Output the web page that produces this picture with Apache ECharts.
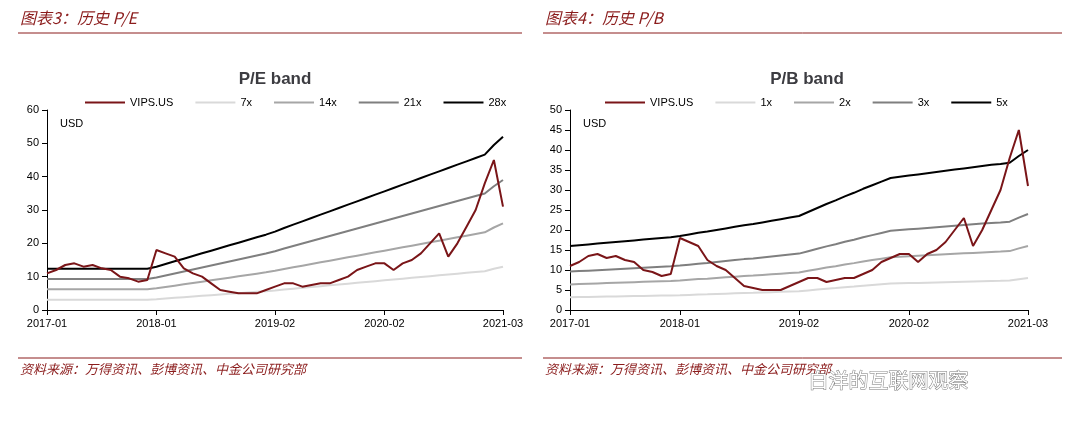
<!DOCTYPE html>
<html lang="zh">
<head>
<meta charset="UTF-8">
<title>VIPS band</title>
<style>
  html, body { margin: 0; padding: 0; background: #fff; }
  #main { width: 1080px; height: 432px; }
</style>
</head>
<body>
<div id="main"></div>
<script src="https://cdn.jsdelivr.net/npm/echarts@6/dist/echarts.min.js"></script>
<script>
// 月度类目 2017-01 ~ 2021-03
var months = [];
for (var y = 2017; y <= 2021; y++) {
  for (var m = 1; m <= 12; m++) {
    if (y === 2021 && m > 3) break;
    months.push(y + '-' + (m < 10 ? '0' + m : m));
  }
}
var tickLabels = ['2017-01', '2018-01', '2019-02', '2020-02', '2021-03'];

// 股价 VIPS.US (USD)
var price = [
  11, 12, 13.5, 14, 13, 13.5, 12.5, 12, 10, 9.5, 8.5, 9,
  18, 17, 16, 12.5, 11, 10, 8, 6, 5.5, 5, 5, 5,
  6, 7, 8, 8, 7, 7.5, 8, 8, 9, 10, 12, 13,
  14, 14, 12, 14, 15, 17, 20, 23, 16, 20, 25, 30,
  38, 45, 31
];

// 28x P/E 线
var pe28 = [
  12.4, 12.4, 12.4, 12.4, 12.4, 12.4, 12.4, 12.4, 12.4, 12.4, 12.4, 12.4,
  13, 13.8, 14.6, 15.4, 16.2, 17, 17.8, 18.6, 19.4, 20.2, 21, 21.8,
  22.6, 23.5, 24.6, 25.6, 26.6, 27.6, 28.6, 29.6, 30.6, 31.6, 32.6, 33.6,
  34.6, 35.6, 36.6, 37.6, 38.6, 39.6, 40.6, 41.6, 42.6, 43.6, 44.6, 45.6,
  46.6, 49.5, 52
];
var peMultiples = [7, 14, 21, 28];

// 5x P/B 线
var pb5 = [
  16, 16.2, 16.4, 16.6, 16.8, 17, 17.2, 17.4, 17.6, 17.8, 18, 18.2,
  18.5, 18.9, 19.3, 19.6, 20, 20.4, 20.8, 21.2, 21.5, 21.9, 22.3, 22.7,
  23.1, 23.5, 24.5, 25.5, 26.5, 27.4, 28.4, 29.3, 30.3, 31.2, 32.1, 33,
  33.3, 33.6, 33.9, 34.2, 34.5, 34.8, 35.1, 35.4, 35.7, 36, 36.3, 36.5,
  36.8, 38.5, 40
];
var pbMultiples = [1, 2, 3, 5];

var bandColors = ['#d9d9d9', '#a6a6a6', '#7f7f7f', '#000000'];
var priceColor = '#7a1518';
var redText = '#8b1c1c';

function bands(base, top, mults, suffix, idx) {
  return mults.map(function (k, i) {
    return {
      name: k + suffix, type: 'line', xAxisIndex: idx, yAxisIndex: idx,
      showSymbol: false, smooth: false,
      lineStyle: { color: bandColors[i], width: 2 }, itemStyle: { color: bandColors[i] },
      data: base.map(function (v) { return +(v * k / top).toFixed(2); })
    };
  });
}

function xAxis(idx) {
  return {
    type: 'category', gridIndex: idx, data: months, boundaryGap: false,
    axisLine: { lineStyle: { color: '#000' } },
    axisTick: { interval: function (i, v) { return tickLabels.indexOf(v) >= 0; }, lineStyle: { color: '#000' } },
    axisLabel: { interval: function (i, v) { return tickLabels.indexOf(v) >= 0; }, color: '#000', fontSize: 11 }
  };
}
function yAxis(idx, max, step) {
  return {
    type: 'value', gridIndex: idx, min: 0, max: max, interval: step,
    axisLine: { show: true, lineStyle: { color: '#000' } },
    axisTick: { show: true, lineStyle: { color: '#000' } },
    axisLabel: { color: '#000', fontSize: 11 },
    splitLine: { show: false }
  };
}
function priceSeries(idx) {
  return {
    name: 'VIPS.US', type: 'line', xAxisIndex: idx, yAxisIndex: idx,
    showSymbol: false, z: 5,
    lineStyle: { color: priceColor, width: 2 }, itemStyle: { color: priceColor },
    data: price
  };
}
function legend(left, names) {
  return {
    top: 92, left: left, itemWidth: 40, itemHeight: 2, itemGap: 22,
    icon: 'rect', textStyle: { fontSize: 11, color: '#000' }, data: names
  };
}

var chart = echarts.init(document.getElementById('main'));
chart.setOption({
  animation: false,
  textStyle: { fontFamily: 'Liberation Sans, Noto Sans CJK SC, sans-serif' },
  title: [
    { text: 'P/E band', left: 270, top: 66, textAlign: 'center', textStyle: { fontSize: 17, fontWeight: 'bold' } },
    { text: 'P/B band', left: 802, top: 66, textAlign: 'center', textStyle: { fontSize: 17, fontWeight: 'bold' } }
  ],
  legend: [
    legend(80, ['VIPS.US', '7x', '14x', '21x', '28x']),
    legend(600, ['VIPS.US', '1x', '2x', '3x', '5x'])
  ],
  grid: [
    { left: 47, top: 110, width: 456, height: 200 },
    { left: 570, top: 110, width: 458, height: 200 }
  ],
  xAxis: [xAxis(0), xAxis(1)],
  yAxis: [yAxis(0, 60, 10), yAxis(1, 50, 5)],
  series: [priceSeries(0)].concat(bands(pe28, 28, peMultiples, 'x', 0))
    .concat([priceSeries(1)]).concat(bands(pb5, 5, pbMultiples, 'x', 1)),
  graphic: [
    { type: 'text', left: 20, top: 10, style: { text: '图表3：历史 P/E', fill: redText, font: 'italic 16px "Noto Sans CJK SC"' } },
    { type: 'text', left: 545, top: 10, style: { text: '图表4：历史 P/B', fill: redText, font: 'italic 16px "Noto Sans CJK SC"' } },
    { type: 'line', shape: { x1: 18, y1: 33, x2: 522, y2: 33 }, style: { stroke: redText, lineWidth: 1 } },
    { type: 'line', shape: { x1: 543, y1: 33, x2: 1062, y2: 33 }, style: { stroke: redText, lineWidth: 1 } },
    { type: 'line', shape: { x1: 18, y1: 358, x2: 522, y2: 358 }, style: { stroke: redText, lineWidth: 1 } },
    { type: 'line', shape: { x1: 543, y1: 358, x2: 1062, y2: 358 }, style: { stroke: redText, lineWidth: 1 } },
    { type: 'text', left: 60, top: 118, style: { text: 'USD', fill: '#000', font: '11px "Liberation Sans"' } },
    { type: 'text', left: 583, top: 118, style: { text: 'USD', fill: '#000', font: '11px "Liberation Sans"' } },
    { type: 'text', left: 20, top: 363, style: { text: '资料来源：万得资讯、彭博资讯、中金公司研究部', fill: redText, font: 'italic 13px "Noto Sans CJK SC"' } },
    { type: 'text', left: 545, top: 363, style: { text: '资料来源：万得资讯、彭博资讯、中金公司研究部', fill: redText, font: 'italic 13px "Noto Sans CJK SC"' } },
    { type: 'text', left: 808, top: 370, style: { text: '白洋的互联网观察', fill: '#fff', stroke: '#777', lineWidth: 1, font: '20px "Noto Sans CJK SC"' } }
  ]
});
</script>
</body>
</html>
